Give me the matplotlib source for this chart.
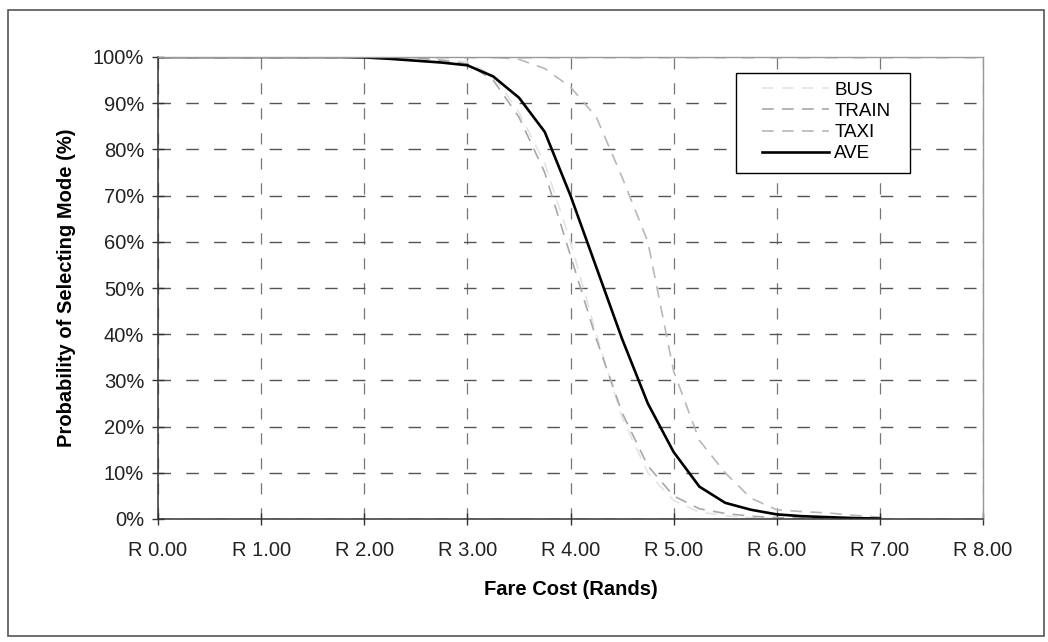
import matplotlib
matplotlib.use("Agg")
import matplotlib.pyplot as plt
from matplotlib.patches import Rectangle
from matplotlib.ticker import FuncFormatter

plt.rcParams['font.family'] = ['Liberation Sans', 'DejaVu Sans']

# fare cost (Rands) and probability of choosing each mode
fare = [0.0, 0.25, 0.5, 0.75, 1.0, 1.25, 1.5, 1.75, 2.0, 2.25, 2.5, 2.75,
        3.0, 3.25, 3.5, 3.75, 4.0, 4.25, 4.5, 4.75, 5.0, 5.25, 5.5, 5.75,
        6.0, 6.25, 6.5, 6.75, 7.0]
bus = [1.0, 1.0, 1.0, 1.0, 1.0, 1.0, 1.0, 1.0, 1.0, 0.999, 0.997, 0.994,
       0.99, 0.96, 0.88, 0.77, 0.60, 0.40, 0.22, 0.10, 0.04, 0.015, 0.007, 0.003,
       0.001, 0.0, 0.0, 0.0, 0.0]
train = [1.0, 1.0, 1.0, 1.0, 1.0, 1.0, 1.0, 1.0, 1.0, 1.0, 0.998, 0.993,
         0.985, 0.95, 0.87, 0.75, 0.57, 0.39, 0.23, 0.115, 0.05, 0.022, 0.012, 0.006,
         0.003, 0.002, 0.001, 0.0005, 0.0]
taxi = [1.0, 1.0, 1.0, 1.0, 1.0, 1.0, 1.0, 1.0, 1.0, 1.0, 1.0, 1.0,
        1.0, 1.0, 0.995, 0.975, 0.935, 0.87, 0.74, 0.60, 0.32, 0.17, 0.10, 0.045,
        0.02, 0.016, 0.013, 0.008, 0.004]
ave = [1.0, 1.0, 1.0, 1.0, 1.0, 1.0, 1.0, 1.0, 0.999, 0.996, 0.992, 0.988,
       0.982, 0.958, 0.912, 0.838, 0.70, 0.545, 0.39, 0.25, 0.145, 0.07, 0.035, 0.02,
       0.01, 0.006, 0.004, 0.002, 0.001]

fig = plt.figure(figsize=(10.48, 6.42), dpi=100)
ax = fig.add_axes([158/1048, 1 - 519/642, 825/1048, 462/642])

# outer frame round the whole chart
fig.patches.append(Rectangle((8/1048, 6/642), 1036/1048, 626/642, transform=fig.transFigure,
                             fill=False, edgecolor='#555555', linewidth=1.2))

ax.plot(fare, bus, color='#e4e4e4', lw=1.2, dashes=(7, 5), label='BUS')
ax.plot(fare, train, color='#a8a8a8', lw=1.2, dashes=(7, 5), label='TRAIN')
ax.plot(fare, taxi, color='#b8b8b8', lw=1.2, dashes=(7, 5), label='TAXI')
ax.plot(fare, ave, color='black', lw=1.9, label='AVE')

ax.set_xlim(0, 8)
ax.set_ylim(0, 1)
ax.set_xticks(range(0, 9))
ax.set_yticks([i / 10 for i in range(11)])
ax.xaxis.set_major_formatter(FuncFormatter(lambda v, p: 'R %.2f' % v))
ax.yaxis.set_major_formatter(FuncFormatter(lambda v, p: '%d%%' % round(v * 100)))

ax.grid(True, axis='y', color='#555555', lw=1.0, linestyle=(0, (9, 11)))
ax.grid(True, axis='x', color='#777777', lw=0.9, linestyle=(0, (9, 11)))
ax.set_axisbelow(True)

for s in ['left', 'bottom']:
    ax.spines[s].set_color('#333333')
    ax.spines[s].set_linewidth(1.1)
for s in ['top', 'right']:
    ax.spines[s].set_color('#999999')
    ax.spines[s].set_linewidth(1.0)

ax.tick_params(axis='both', direction='inout', length=8, width=1, color='#333333',
               labelsize=14.5, labelcolor='#222222')
ax.tick_params(axis='x', pad=12)
ax.tick_params(axis='y', pad=6)

ax.set_xlabel('Fare Cost (Rands)', fontsize=14.5, fontweight='bold', labelpad=14)
ax.set_ylabel('Probability of Selecting Mode (%)', fontsize=14.5, fontweight='bold', labelpad=12)

# legend box drawn separately so the entries can sit inset like the original
ax.add_patch(Rectangle((0.7006, 0.7489), 0.2109, 0.2165, transform=ax.transAxes,
                       facecolor='white', edgecolor='black', lw=1.0, zorder=4.5))
leg = ax.legend(loc='upper left', bbox_to_anchor=(0.7321, 0.947), fontsize=13.5,
                frameon=False, handlelength=3.6, handletextpad=0.25,
                labelspacing=0.22, borderpad=0, borderaxespad=0)
leg.set_zorder(5)

fig.savefig('out.png', dpi=100, facecolor='white')
